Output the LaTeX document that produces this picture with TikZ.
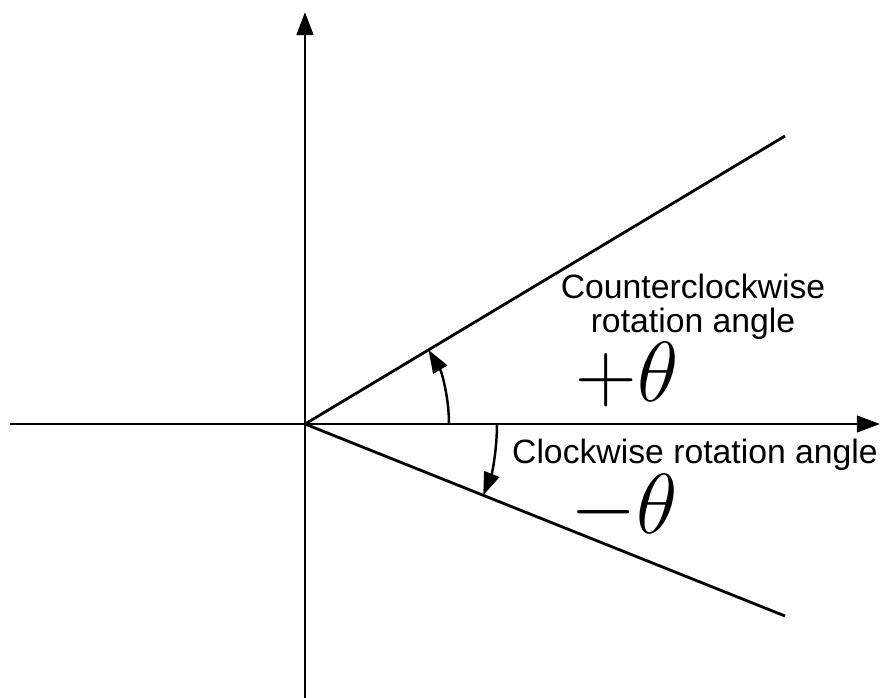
\documentclass[tikz,border=0pt]{standalone}
\usepackage{fontspec}
\setmainfont{Liberation Sans}
\usetikzlibrary{arrows.meta}

\newcommand{\grandangle}[1]{\scalebox{1.95}{\Huge$#1\theta$}}

\begin{document}
\begin{tikzpicture}[
    axe/.style={line width=1.6pt, -{Triangle[length=0.46cm, width=0.33cm]}},
    rayon/.style={line width=1.6pt},
    fleche/.style={line width=1.4pt, -{Triangle[length=0.46cm, width=0.32cm]}},
    etiquette/.style={font=\fontsize{19.2}{18.8}\selectfont, inner sep=0pt, align=center},
    angle/.style={inner sep=0pt}
  ]

  % Cadre de l'image
  \useasboundingbox (-6.1,-5.48) rectangle (11.58,8.48);

  % Angles des deux demi-droites
  \def\aplus{30.96}   % angle positif
  \def\amoins{-21.8}  % angle negatif

  % Axes
  \coordinate (O) at (0,0);
  \coordinate (xg) at (-5.9,0);
  \coordinate (xd) at (11.5,0);
  \coordinate (yb) at (0,-5.48);
  \coordinate (yh) at (0,8.24);
  \draw[axe] (xg) -- (xd);
  \draw[axe] (yb) -- (yh);

  % Demi-droites tournees
  \coordinate (P) at (9.6,5.76);
  \coordinate (M) at (9.6,-3.84);
  \draw[rayon] (O) -- (P);
  \draw[rayon] (O) -- (M);

  % Arcs des angles
  \draw[fleche] (2.88,0) arc[start angle=0, end angle=\aplus, radius=2.88];
  \draw[fleche] (3.84,0) arc[start angle=0, end angle=\amoins, radius=3.84];

  % Textes
  \node[etiquette, anchor=base] (ccw) at (7.76,1.84) {Counterclockwise\\rotation angle};
  \node[etiquette, anchor=base] (cw) at (7.8,-0.78) {Clockwise rotation angle};
  \node[angle] (tplus) at (6.44,0.98) {\grandangle{+}};
  \node[angle] (tmoins) at (6.38,-1.66) {\grandangle{-}};

\end{tikzpicture}
\end{document}
